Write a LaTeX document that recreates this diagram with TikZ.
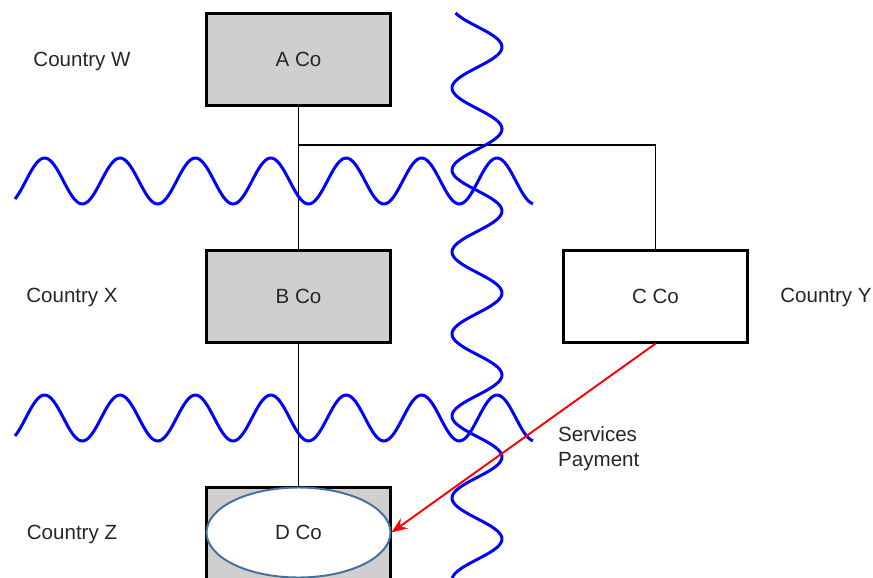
\documentclass[tikz,border=0pt]{standalone}
\usepackage{fontspec}
\setmainfont{Liberation Sans}
\usetikzlibrary{arrows.meta,shapes.geometric}
\definecolor{cogray}{RGB}{208,206,206}
\definecolor{ringblue}{RGB}{65,113,156}
\definecolor{txt}{RGB}{38,38,38}
\begin{document}
\begin{tikzpicture}[x=0.02cm,y=-0.02cm,
  every node/.style={font=\fontsize{11.7}{14}\selectfont,text=txt},
  cobox/.style={draw=black,line width=1.3pt,fill=cogray,minimum width=3.68cm,minimum height=1.84cm,inner sep=0pt},
  link/.style={draw=black,line width=1.1pt},
  wave/.style={draw=blue,line width=1.7pt},
  pay/.style={draw=red,line width=1.1pt,-{Stealth[length=9pt,width=7pt]}}]
\useasboundingbox (0,0) rectangle (873,578);
\clip (0,0) rectangle (873,578);
% companies
\node[cobox] (A) at (298.5,59.5) {A Co};
\node[cobox] (B) at (298.5,296.5) {B Co};
\node[cobox,fill=white] (C) at (655.5,296.5) {C Co};
\node[cobox] (D) at (298.5,533.5) {};
\node[ellipse,draw=ringblue,line width=1.1pt,fill=white,minimum width=3.68cm,minimum height=1.8cm,inner sep=0pt] (Dell) at (298.5,532.5) {D Co};
% countries
\node (cw) at (82,61) {Country W};
\node (cx) at (72,297) {Country X};
\node (cy) at (826,297) {Country Y};
\node (cz) at (72,534) {Country Z};
% ownership
\coordinate (fork) at (298.5,145);
\draw[link] (A.south) -- (B.north);
\draw[link] (fork) -| (C.north);
\draw[link] (B.south) -- (D.north);
% borders
\draw[wave] plot[domain=15:533,samples=220,smooth] (\x,{181-23*cos(4.7745*(\x-44.6))});
\draw[wave] plot[domain=15:533,samples=220,smooth] (\x,{418-23*cos(4.7745*(\x-44.6))});
\draw[wave] plot[domain=13:578,samples=240,smooth] ({477+25*cos(4.3902*(\x-47))},\x);
% payment
\draw[pay] (C.south) -- (Dell.east);
\node[anchor=west,align=left] (sp) at (552,448.5) {Services\\Payment};
\end{tikzpicture}
\end{document}
